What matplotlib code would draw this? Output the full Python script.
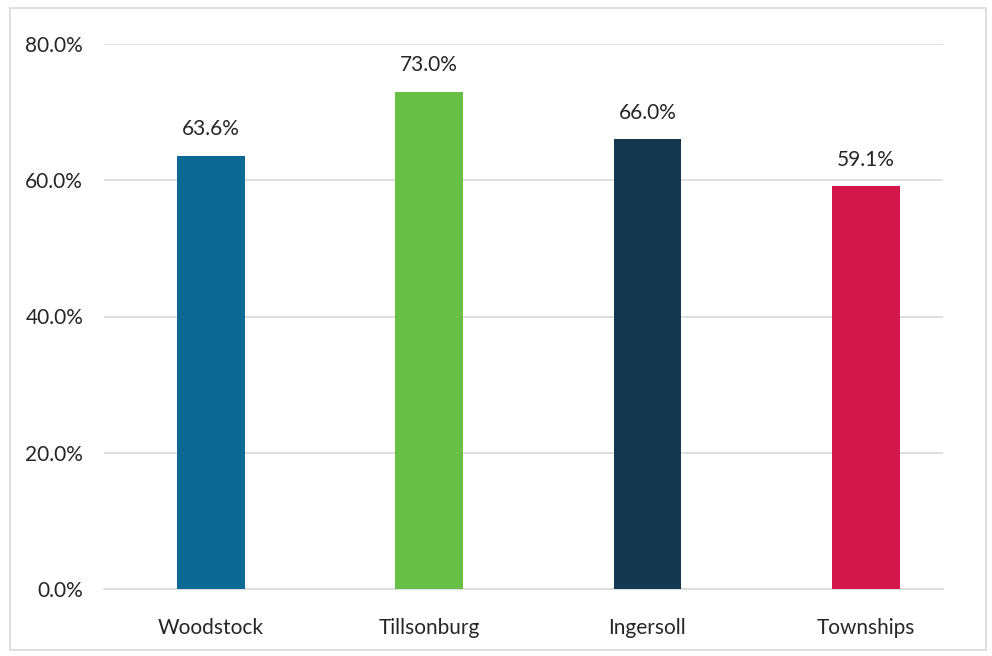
import matplotlib
matplotlib.use("Agg")
import matplotlib.pyplot as plt
from matplotlib.patches import Rectangle
from matplotlib.ticker import FuncFormatter

areas = ["Woodstock", "Tillsonburg", "Ingersoll", "Townships"]
shares = [63.6, 73.0, 66.0, 59.1]
bar_colors = ["#0d6893", "#69bf45", "#14384f", "#d3174a"]
y_ticks = [0, 20, 40, 60, 80]

plt.rcParams["font.family"] = ["Lato", "DejaVu Sans"]
text_color = "#262626"

fig = plt.figure(figsize=(9.92, 6.56), dpi=100)
ax = fig.add_axes([104 / 992, 67 / 656, 839 / 992, 545 / 656])

x = list(range(len(areas)))
bars = ax.bar(x, shares, width=0.31, color=bar_colors, zorder=3)

for rect, val in zip(bars, shares):
    ax.annotate(f"{val:.1f}%", (rect.get_x() + rect.get_width() / 2, val),
                xytext=(0, 12), textcoords="offset points",
                ha="center", va="bottom", fontsize=15, color=text_color)

ax.set_xlim(-0.49, 3.354)
ax.set_ylim(0, 80)
ax.set_yticks(y_ticks)
ax.yaxis.set_major_formatter(FuncFormatter(lambda v, _: f"{v:.1f}%"))
ax.set_xticks(x)
ax.set_xticklabels(areas)

ax.grid(axis="y", color="#d9d9d9", linewidth=1.2, zorder=0)
ax.tick_params(axis="y", length=0, pad=15, labelsize=15, labelcolor=text_color)
ax.tick_params(axis="x", length=0, pad=21, labelsize=15, labelcolor=text_color)
for side in ["top", "right", "left"]:
    ax.spines[side].set_visible(False)
ax.spines["bottom"].set_color("#d9d9d9")
ax.spines["bottom"].set_linewidth(1.2)

# light frame around the whole chart
fig.patches.append(Rectangle((10 / 992, 6 / 656), 976 / 992, 642 / 656,
                             transform=fig.transFigure, fill=False,
                             edgecolor="#d9d9d9", linewidth=1.2))

fig.savefig("out.png", dpi=100)
